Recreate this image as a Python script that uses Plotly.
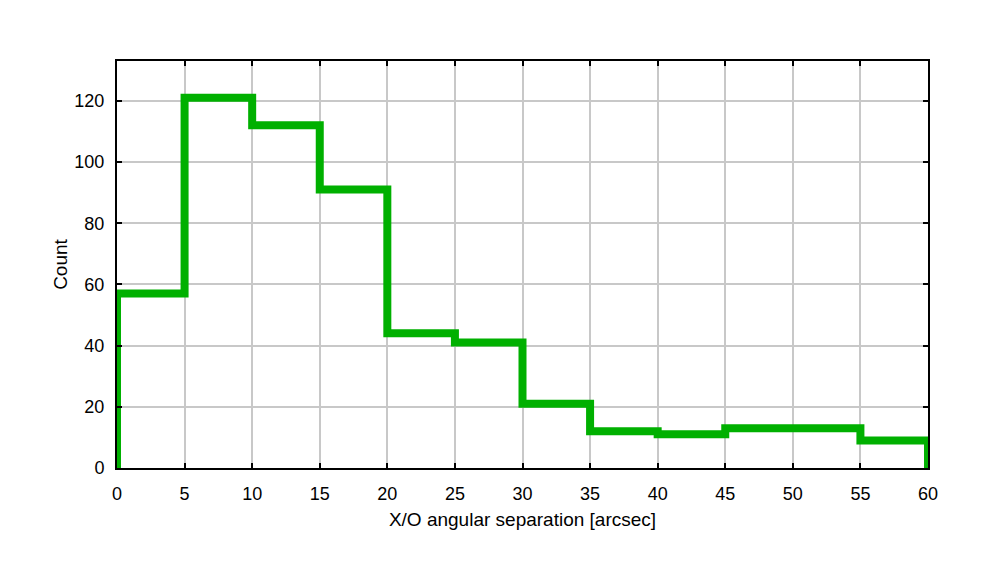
import plotly.graph_objects as go

bin_edges = [0, 5, 10, 15, 20, 25, 30, 35, 40, 45, 50, 55, 60]
counts    = [57, 121, 112, 91, 44, 41, 21, 12, 11, 13, 13, 9]

# step outline: rise from 0 at the first edge, drop back to 0 at the last edge
step_x = [bin_edges[0]] + bin_edges + [bin_edges[-1]]
step_y = [0] + counts + [counts[-1], 0]

fig = go.Figure()
fig.add_trace(
    go.Scatter(
        x         = step_x,
        y         = step_y,
        mode      = "lines",
        line      = dict(color="#00b000", width=8, shape="hv"),
        showlegend= False,
    )
)

axis_style = dict(
    showline   = True,
    linecolor  = "black",
    linewidth  = 2,
    mirror     = "ticks",
    ticks      = "inside",
    ticklen    = 5,
    tickwidth  = 2,
    tickcolor  = "black",
    showgrid   = True,
    gridcolor  = "#c8c8c8",
    gridwidth  = 2,
    zeroline   = False,
    automargin = False,
    tickfont   = dict(size=18, color="black"),
)

fig.update_xaxes(
    range = [0, 60],
    dtick = 5,
    ticklabelstandoff = 8,
    title = dict(text="X/O angular separation [arcsec]", font=dict(size=19, color="black"), standoff=10),
    **axis_style
)
fig.update_yaxes(
    range = [0, 133],
    dtick = 20,
    ticklabelstandoff = 7,
    title = dict(text="Count", font=dict(size=19, color="black"), standoff=2),
    **axis_style
)

# the page body adds an 8px offset, so the figure is shrunk by that much
fig.update_layout(
    width         = 985,
    height        = 571,
    margin        = dict(l=109, r=65, t=53, b=111),
    paper_bgcolor = "white",
    plot_bgcolor  = "white",
    font          = dict(family="Liberation Sans, Arial, sans-serif"),
)

fig.write_html("out.html")
